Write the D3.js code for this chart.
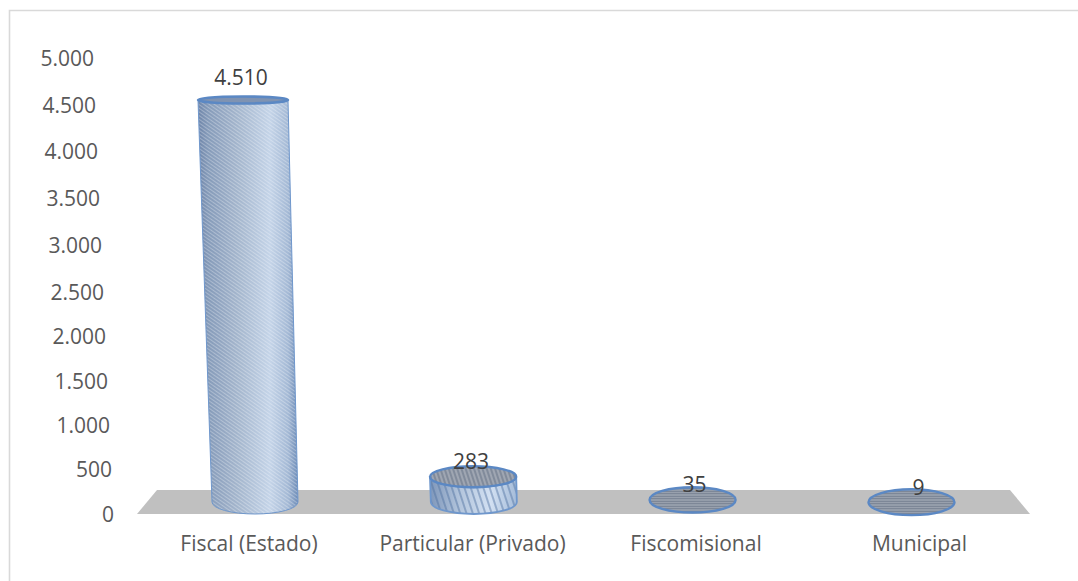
<!DOCTYPE html>
<html>
<head>
<meta charset="utf-8">
<script src="https://cdn.jsdelivr.net/npm/d3@7"></script>
<style>
html, body { margin: 0; padding: 0; background: #fff; }
svg { display: block; }
text { font-family: "Open Sans", sans-serif; font-size: 21px; }
</style>
</head>
<body>
<svg id="chart" width="1078" height="581"></svg>
<script>
// Instituciones por sostenimiento
const categories = ["Fiscal (Estado)", "Particular (Privado)", "Fiscomisional", "Municipal"];
const seriesValues = [4510, 283, 35, 9];
const tickValues = [0, 500, 1000, 1500, 2000, 2500, 3000, 3500, 4000, 4500, 5000];
const formatValue = v => d3.format(",")(v).replace(/,/g, ".");

const svg = d3.select("#chart");
const defs = svg.append("defs");

// Side shading: dark rim on both edges, light towards the right of centre
const sideGrad = defs.append("linearGradient").attr("id", "sideShade");
[[0, "#6c83a8"], [0.1, "#8399b8"], [0.4, "#a3b5cc"], [0.72, "#c3d3e8"], [0.9, "#a3b8d4"], [1, "#6b8ab6"]]
  .forEach(([o, c]) => sideGrad.append("stop").attr("offset", o).attr("stop-color", c));

const shortGrad = defs.append("linearGradient").attr("id", "shortShade");
[[0, "#7f97ba"], [0.35, "#b4c6dd"], [0.7, "#d2e0f2"], [1, "#a5bcd9"]]
  .forEach(([o, c]) => shortGrad.append("stop").attr("offset", o).attr("stop-color", c));

function hatch(id, spacing, angle, color, width, opacity) {
  const p = defs.append("pattern").attr("id", id)
    .attr("patternUnits", "userSpaceOnUse")
    .attr("width", spacing).attr("height", spacing)
    .attr("patternTransform", `rotate(${angle})`);
  p.append("line").attr("x1", 0).attr("x2", spacing)
    .attr("y1", spacing / 2).attr("y2", spacing / 2)
    .attr("stroke", color).attr("stroke-width", width).attr("stroke-opacity", opacity);
}
hatch("hatchTall", 3, 35, "#ffffff", 1.1, 0.3);
hatch("hatchShort", 6, 72, "#4f6f9f", 1.8, 0.5);
hatch("hatchCap", 4, 72, "#5f6c80", 1.6, 0.6);
hatch("hatchThin", 2.5, 0, "#667284", 1.1, 0.8);

// Chart frame
svg.append("path")
  .attr("d", d3.line()([[9.5, 581], [9.5, 10.5], [1078, 10.5]]))
  .attr("fill", "none").attr("stroke", "#d9d9d9").attr("stroke-width", 1.6);

// Floor of the 3D plot
svg.append("polygon")
  .attr("points", [[157, 490], [1010, 490], [1030, 514], [137, 514]].join(" "))
  .attr("fill", "#c0c0c0");

// Slanted value axis: label edge drifts right towards zero
const yAxisScale = d3.scaleLinear().domain([0, 2500, 5000]).range([514, 292, 58]);
const yAxisEdge = d3.scaleLinear().domain([0, 5000]).range([114, 94]);
const yAxis = svg.append("g")
  .call(d3.axisLeft(yAxisScale).tickValues(tickValues).tickFormat(formatValue).tickSize(0).tickPadding(0));
yAxis.select(".domain").remove();
yAxis.selectAll("text")
  .attr("x", d => yAxisEdge(d))
  .attr("dy", "0.35em")
  .attr("fill", "#595959")
  .style("font-size", "21px");

// Category axis
const xLabelScale = d3.scalePoint().domain(categories).range([248.5, 919]);
const xAxis = svg.append("g").attr("transform", "translate(0,544)")
  .call(d3.axisBottom(xLabelScale).tickSize(0).tickPadding(0));
xAxis.select(".domain").remove();
xAxis.selectAll("text")
  .attr("y", 0).attr("dy", "0.35em")
  .attr("fill", "#595959")
  .style("font-size", "21px");

// Cylinder geometry
const baseX = d3.scalePoint().domain(categories).range([255, 911.5]);
const topY = d3.scaleLinear().domain([0, 4510]).range([502, 100]);
const lean = d3.scaleLinear().domain([0, 4510]).range([0, -12]);
const capRy = d3.scaleLinear().domain([0, 283, 4510]).range([13, 10.5, 3.5]);
const capRx = d3.scaleLinear().domain([0, 4510]).range([43, 45]);
const baseY = 502, baseRx = 43, baseRy = 12;
const labelOffset = d3.scaleLinear().domain([0, 283, 4510]).range([-14, -15, -22]);
const labelDrift = d3.scalePoint().domain(categories).range([0, 1]);
const labelShift = d3.scaleLinear().domain([0, 1 / 3, 2 / 3, 1]).range([-2, -2, 2, 7]);

const bars = svg.append("g").selectAll("g")
  .data(categories.map((c, i) => ({ category: c, value: seriesValues[i] })))
  .join("g");

const sidePath = d => {
  const bx = baseX(d.category), tx = bx + lean(d.value), ty = topY(d.value);
  const rx = capRx(d.value), ry = capRy(d.value);
  return `M${tx - rx},${ty} L${bx - baseRx},${baseY}` +
    `A${baseRx},${baseRy} 0 0 0 ${bx + baseRx},${baseY}` +
    `L${tx + rx},${ty} A${rx},${ry} 0 0 1 ${tx - rx},${ty}Z`;
};

// Only cylinders tall enough to show a wall get one
const walled = bars.filter(d => d.value > 100);
walled.append("path").attr("d", sidePath)
  .attr("fill", d => d.value > 1000 ? "url(#sideShade)" : "url(#shortShade)");
walled.append("path").attr("d", sidePath)
  .attr("fill", d => d.value > 1000 ? "url(#hatchTall)" : "url(#hatchShort)");
walled.append("path").attr("d", sidePath)
  .attr("fill", "none").attr("stroke", "#6f97cc")
  .attr("stroke-width", d => d.value > 1000 ? 1 : 1.8);

const cap = sel => sel
  .attr("cx", d => baseX(d.category) + lean(d.value))
  .attr("cy", d => topY(d.value) + (d.value < 100 ? 1 : 0))
  .attr("rx", d => capRx(d.value))
  .attr("ry", d => capRy(d.value));

bars.append("ellipse").call(cap).attr("fill", d => d.value > 1000 ? "#7f93b2" : "#9fa6b2");
bars.append("ellipse").call(cap)
  .attr("fill", d => d.value > 1000 ? "none" : d.value > 100 ? "url(#hatchCap)" : "url(#hatchThin)")
  .attr("stroke", "#5b88c4")
  .attr("stroke-width", d => d.value > 1000 ? 2.6 : 2.4);

// Value labels
bars.append("text")
  .attr("x", d => baseX(d.category) + lean(d.value) + labelShift(labelDrift(d.category)))
  .attr("y", d => topY(d.value) + labelOffset(d.value))
  .attr("dy", "0.35em")
  .attr("text-anchor", "middle")
  .attr("fill", "#404040")
  .text(d => formatValue(d.value));
</script>
</body>
</html>
